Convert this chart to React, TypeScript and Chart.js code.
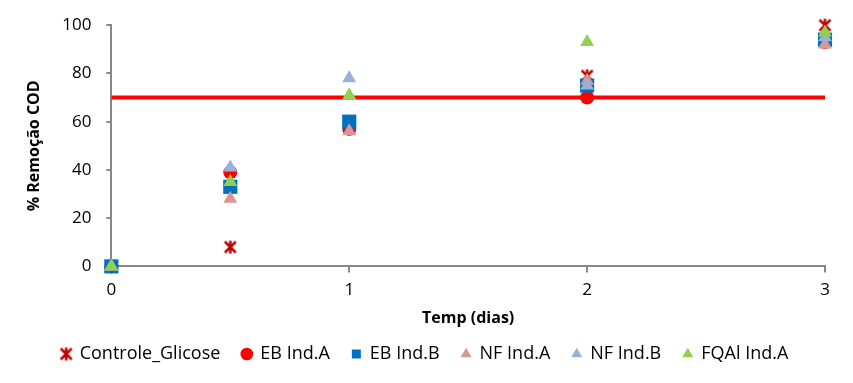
import React, { useEffect, useRef } from "react";
import { Chart, registerables } from "chart.js";
Chart.register(...registerables);

const days = [0, 0.5, 1, 2, 3];
const controleGlicose = [0, 8, null, 79, 100];
const ebIndA = [0, 39, 57, 70, 93];
const ebIndB = [0, 33, 60, 75, 94];
const nfIndA = [0, 28, 56, 77, 92];
const nfIndB = [0, 41, 78, 75, 95];
const fqalIndA = [0, 35, 71, 93, 97];
const threshold = 70;
const seriesNames = ["Controle_Glicose", "EB Ind.A", "EB Ind.B", "NF Ind.A", "NF Ind.B", "FQAl Ind.A"];

const FONT = "'Open Sans', sans-serif";

function starMarker(color: string, size: number) {
  const c = document.createElement("canvas");
  c.width = size;
  c.height = size;
  const g = c.getContext("2d")!;
  g.strokeStyle = color;
  g.lineWidth = 2.5;
  g.beginPath();
  g.moveTo(2, 2);
  g.lineTo(size - 2, size - 2);
  g.moveTo(size - 2, 2);
  g.lineTo(2, size - 2);
  g.moveTo(size / 2, 1);
  g.lineTo(size / 2, size - 1);
  g.stroke();
  return c;
}

export default function App() {
  const ref = useRef<HTMLCanvasElement>(null);
  useEffect(() => {
    document.body.style.margin = "0";
    const pts = (arr: (number | null)[]) =>
      days.map((d, i) => ({ x: d, y: arr[i] })).filter((p) => p.y !== null);
    const mk = (i: number, arr: (number | null)[], color: string, style: any, r: number) => ({
      label: seriesNames[i],
      data: pts(arr),
      backgroundColor: color,
      borderColor: color,
      pointStyle: style,
      pointRadius: r,
      borderWidth: 0,
      showLine: false,
      clip: false,
      order: 10 - i,
    });
    const chart = new Chart(ref.current!, {
      type: "scatter",
      data: {
        datasets: [
          mk(0, controleGlicose, "#C00000", starMarker("#C00000", 15), 7),
          mk(1, ebIndA, "#FF0000", "circle", 7),
          mk(2, ebIndB, "#0070C0", "rect", 10),
          mk(3, nfIndA, "#DA9694", "triangle", 8),
          mk(4, nfIndB, "#95B3D7", "triangle", 8),
          mk(5, fqalIndA, "#92D050", "triangle", 8),
          {
            label: "limite",
            data: [
              { x: 0, y: threshold },
              { x: 3, y: threshold },
            ],
            showLine: true,
            borderColor: "#FF0000",
            backgroundColor: "#FF0000",
            borderWidth: 4,
            pointRadius: 0,
            order: 20,
          } as any,
        ],
      },
      options: {
        animation: false,
        responsive: false,
        layout: { padding: { left: 25, right: 28, top: 12, bottom: 10 } },
        plugins: {
          tooltip: { enabled: false },
          legend: {
            position: "bottom",
            labels: {
              usePointStyle: true,
              boxWidth: 9,
              boxHeight: 9,
              padding: 22,
              color: "#000",
              font: { family: FONT, size: 18 },
              filter: (item: any) => item.text !== "limite",
              sort: (a: any, b: any) => a.datasetIndex - b.datasetIndex,
            },
          },
        },
        scales: {
          x: {
            type: "linear",
            min: 0,
            max: 3,
            ticks: { stepSize: 1, color: "#000", font: { family: FONT, size: 17 }, padding: 8 },
            grid: { display: true, drawOnChartArea: false, drawTicks: true, tickLength: 6, color: "#888", lineWidth: 2 },
            border: { color: "#888", width: 2 },
            title: {
              display: true,
              text: "Temp (dias)",
              color: "#000",
              font: { family: FONT, size: 16, weight: "bold" },
              padding: { top: 0, bottom: -5 },
            },
          },
          y: {
            min: 0,
            max: 100,
            ticks: { stepSize: 20, color: "#000", font: { family: FONT, size: 17 }, padding: 15 },
            grid: { display: true, drawOnChartArea: false, drawTicks: true, tickLength: 5, color: "#888", lineWidth: 2 },
            border: { color: "#888", width: 2 },
            title: {
              display: true,
              text: "% Remoção COD",
              color: "#000",
              font: { family: FONT, size: 16, weight: "bold" },
              padding: { top: 0, bottom: 3 },
            },
          },
        },
      },
    });
    return () => chart.destroy();
  }, []);
  return (
    <div style={{ width: 853, height: 383 }}>
      <canvas ref={ref} width={853} height={383} />
    </div>
  );
}
